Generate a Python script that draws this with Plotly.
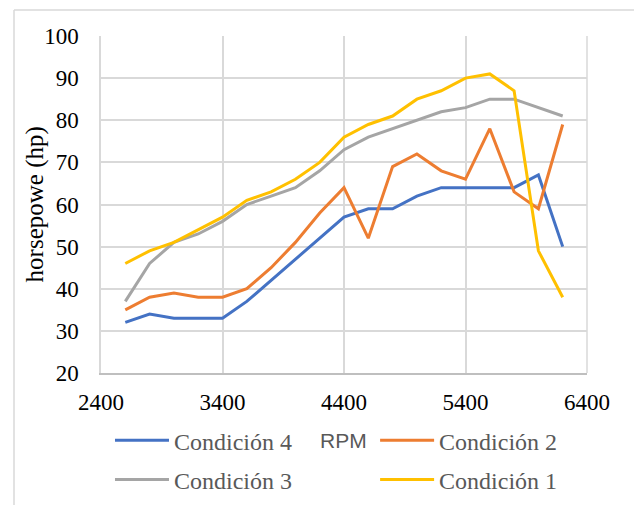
import plotly.graph_objects as go

rpm = [2600, 2800, 3000, 3200, 3400, 3600, 3800, 4000, 4200, 4400,
       4600, 4800, 5000, 5200, 5400, 5600, 5800, 6000, 6200]

cond4 = [32, 34, 33, 33, 33, 37, 42, 47, 52, 57, 59, 59, 62, 64, 64, 64, 64, 67, 50]
cond2 = [35, 38, 39, 38, 38, 40, 45, 51, 58, 64, 52, 69, 72, 68, 66, 78, 63, 59, 79]
cond3 = [37, 46, 51, 53, 56, 60, 62, 64, 68, 73, 76, 78, 80, 82, 83, 85, 85, 83, 81]
cond1 = [46, 49, 51, 54, 57, 61, 63, 66, 70, 76, 79, 81, 85, 87, 90, 91, 87, 49, 38]

x_ticks = [2400, 3400, 4400, 5400, 6400]
y_ticks = [20, 30, 40, 50, 60, 70, 80, 90, 100]

# (name, values, colour, legend column)
series = [
    ("Condición 4", cond4, "#4472C4", "legend"),
    ("Condición 2", cond2, "#ED7D31", "legend2"),
    ("Condición 3", cond3, "#A5A5A5", "legend"),
    ("Condición 1", cond1, "#FFC000", "legend2"),
]

serif = "Liberation Serif, Times New Roman, serif"

fig = go.Figure()
for name, vals, color, leg in series:
    fig.add_trace(go.Scatter(
        x=rpm, y=vals, name=name, mode="lines", legend=leg, legendgroup=name,
        line=dict(color=color, width=3),
    ))

legend_common = dict(
    orientation="v", yanchor="top", y=-0.134, xanchor="left",
    font=dict(family=serif, size=24, color="#595959"),
    itemwidth=54, traceorder="grouped", tracegroupgap=5,
    bgcolor="rgba(0,0,0,0)", borderwidth=0,
)

fig.update_layout(
    width=634, height=505,
    margin=dict(l=101, r=47, t=36, b=132, autoexpand=False),
    paper_bgcolor="white", plot_bgcolor="white",
    showlegend=True,
    legend=dict(x=0.0185, **legend_common),
    legend2=dict(x=0.564, **legend_common),
    xaxis=dict(
        range=[2400, 6400], tickvals=x_ticks,
        ticktext=[str(v) for v in x_ticks],
        showgrid=True, gridcolor="#D9D9D9", gridwidth=1.5,
        showline=True, linecolor="#BFBFBF", linewidth=1.5, mirror=False,
        zeroline=False, ticks="", ticklabelstandoff=8,
        tickfont=dict(family=serif, size=23, color="#000000"),
    ),
    yaxis=dict(
        range=[20, 100], tickvals=y_ticks,
        showgrid=True, gridcolor="#D9D9D9", gridwidth=1.5,
        showline=True, linecolor="#D9D9D9", linewidth=1.5,
        zeroline=False, ticks="", ticklabelstandoff=16,
        tickfont=dict(family=serif, size=23, color="#000000"),
    ),
)

# y-axis title, set close to the tick labels
fig.add_annotation(
    text="horsepowe (hp)", xref="paper", yref="paper", x=-0.136, y=0.5,
    xanchor="center", yanchor="middle", textangle=-90, showarrow=False,
    font=dict(family=serif, size=25, color="#000000"),
)

# x-axis title placed between the legend entries
fig.add_annotation(
    text="RPM", xref="paper", yref="paper", x=0.498, y=-0.201,
    xanchor="center", yanchor="middle", showarrow=False,
    font=dict(family="Liberation Sans, Arial, sans-serif", size=21, color="#595959"),
)

# right border of the plot area and outer chart frame
fig.add_shape(type="line", xref="paper", yref="paper", x0=1, x1=1, y0=0, y1=1,
              line=dict(color="#D9D9D9", width=1.5))
fig.add_shape(type="line", xref="paper", yref="paper", x0=-0.179, x1=1.2, y0=1.077, y1=1.077,
              line=dict(color="#D9D9D9", width=1.5))
fig.add_shape(type="line", xref="paper", yref="paper", x0=-0.179, x1=-0.179, y0=-0.45, y1=1.077,
              line=dict(color="#D9D9D9", width=1.5))

fig.write_html("out.html")
